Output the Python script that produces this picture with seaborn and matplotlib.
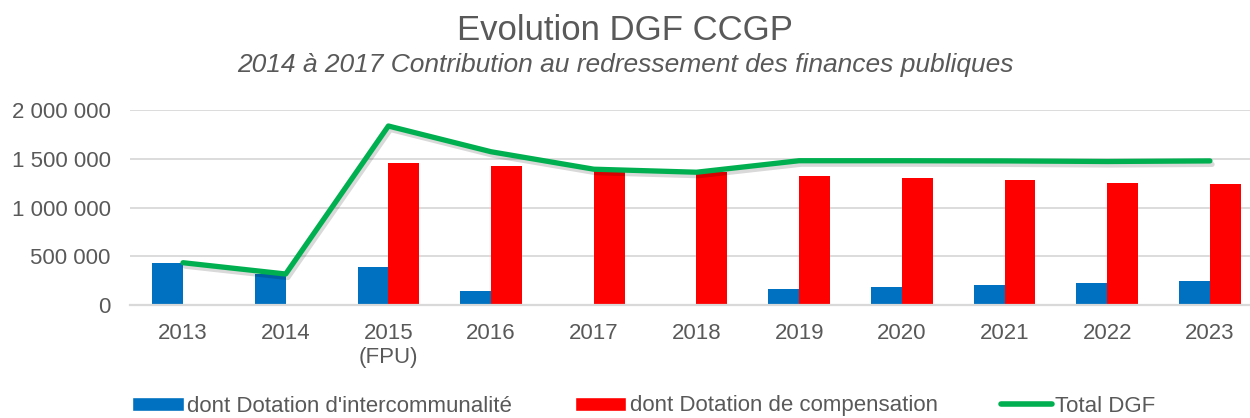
import numpy as np
import pandas as pd
import seaborn as sns
from matplotlib import pyplot as plt
from matplotlib import patheffects as pe
from matplotlib.patches import Patch
from matplotlib.lines import Line2D
from matplotlib.ticker import FuncFormatter, MultipleLocator

years = ["2013", "2014", "2015\n(FPU)", "2016", "2017", "2018",
         "2019", "2020", "2021", "2022", "2023"]
intercommunalite = [434000, 318000, 393000, 144000, 0, 0,
                    161000, 181000, 202000, 222000, 246000]
compensation = [0, 0, 1453000, 1426000, 1392000, 1360000,
                1326000, 1303000, 1279000, 1251000, 1241000]
total_dgf = [434000, 318000, 1836000, 1572000, 1393000, 1362000,
             1480000, 1480000, 1478000, 1472000, 1478000]

LBL_BLUE = "dont Dotation d'intercommunalité"
LBL_RED = "dont Dotation de compensation"
LBL_LINE = "Total DGF"
BLUE = "#0070C0"
RED = "#FF0000"
GREEN = "#00B050"
TXT = "#595959"
GRID = "#D9D9D9"

sns.set_style("white")
plt.rcParams["font.family"] = ["Liberation Sans", "DejaVu Sans"]

df = pd.DataFrame({
    "Année": years * 2,
    "Serie": [LBL_BLUE] * len(years) + [LBL_RED] * len(years),
    "Valeur": intercommunalite + compensation,
})

fig = plt.figure(figsize=(12.5, 4.18), dpi=100)
ax = fig.add_axes([0.104, 0.2703, 0.896, 0.4665])

sns.barplot(data=df, x="Année", y="Valeur", hue="Serie", order=years,
            hue_order=[LBL_BLUE, LBL_RED], palette={LBL_BLUE: BLUE, LBL_RED: RED},
            width=0.6, linewidth=0, saturation=1, ax=ax, legend=False, zorder=2)

# total line, with a soft shadow like the excel one
xs = np.arange(len(years))
sns.lineplot(x=xs, y=total_dgf, ax=ax, color=GREEN, linewidth=3.8, zorder=3,
             solid_capstyle="round", solid_joinstyle="round",
             path_effects=[pe.SimpleLineShadow(offset=(1.5, -2.5), alpha=0.15),
                           pe.Normal()])

ax.set_ylim(0, 2000000)
ax.set_xlim(-0.516, 10.39)
ax.yaxis.set_major_locator(MultipleLocator(500000))
ax.yaxis.set_major_formatter(FuncFormatter(lambda v, p: f"{int(v):,}".replace(",", " ")))
ax.grid(axis="y", color=GRID, linewidth=1.3, zorder=0)
ax.set_axisbelow(True)
for s in ["top", "right", "left"]:
    ax.spines[s].set_visible(False)
ax.spines["bottom"].set_color(GRID)
ax.spines["bottom"].set_linewidth(1.6)
ax.tick_params(axis="both", length=0, labelsize=16, labelcolor=TXT)
ax.tick_params(axis="x", pad=13)
ax.tick_params(axis="y", pad=14)
ax.set_xlabel("")
ax.set_ylabel("")

fig.text(0.5, 1 - 30 / 418, "Evolution DGF CCGP", ha="center", va="center",
         fontsize=25, color=TXT)
fig.text(0.5, 1 - 65 / 418, "2014 à 2017 Contribution au redressement des finances publiques",
         ha="center", va="center", fontsize=19, style="italic", color=TXT)

handles = [Patch(facecolor=BLUE, label=LBL_BLUE),
           Patch(facecolor=RED, label=LBL_RED),
           Line2D([0], [0], color=GREEN, linewidth=4, solid_capstyle="round", label=LBL_LINE)]
leg = fig.legend(handles=handles, loc="center", bbox_to_anchor=(644 / 1250, 1 - 406 / 418),
                 ncol=3, frameon=False, fontsize=16, handlelength=2.3, handleheight=0.6,
                 handletextpad=0.15, columnspacing=2.85, labelcolor=TXT)

fig.savefig("out.png", dpi=100)
